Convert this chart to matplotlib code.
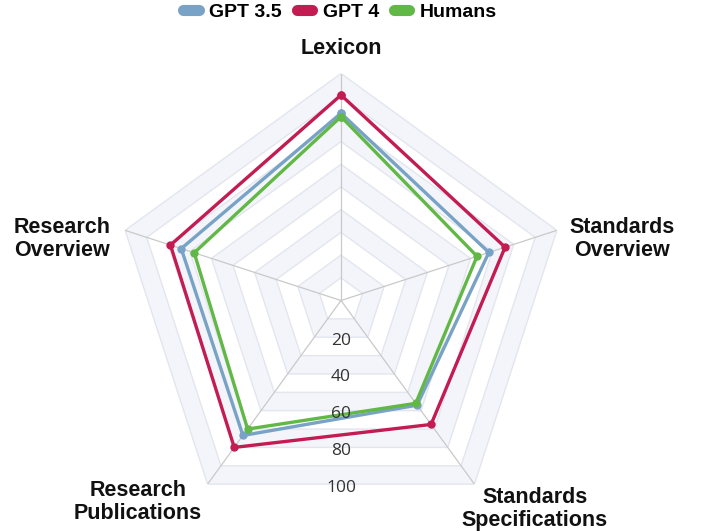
import numpy as np
import matplotlib.pyplot as plt
from matplotlib.lines import Line2D

# 数据
categories = ["Lexicon", "Standards\nOverview", "Standards\nSpecifications",
              "Research\nPublications", "Research\nOverview"]
gpt35 = [82.5, 68.5, 57, 73.5, 74]
gpt4 = [90.5, 76, 67.5, 80, 79]
humans = [81, 63, 56, 70, 68]
series_names = ["GPT 3.5", "GPT 4", "Humans"]
series_colors = ["#78a3c6", "#c21c52", "#62b846"]
tick_values = [20, 40, 60, 80, 100]

W, H = 702, 531
cx, cy, R = 341, 300.5, 227


def px(x, y):
    # 像素坐标 -> figure 坐标
    return x / W, 1 - y / H


fig = plt.figure(figsize=(W / 100, H / 100), dpi=100)
ax = fig.add_axes([(cx - R) / W, 1 - (cy + R) / H, 2 * R / W, 2 * R / H], projection="polar")
ax.set_theta_offset(np.pi / 2)
ax.set_theta_direction(-1)
ax.set_ylim(0, 100)
ax.grid(False)
ax.spines["polar"].set_visible(False)
ax.set_xticks([])
ax.set_yticks([])
ax.patch.set_alpha(0)

n = len(categories)
theta = np.arange(n) * 2 * np.pi / n
theta_c = np.append(theta, theta[0])

# 网格带（交替填充）
levels = np.arange(10, 101, 10)
for i in range(len(levels) - 1, -1, -1):
    r = levels[i]
    col = "#f4f5fa" if i % 2 == 1 else "white"
    ax.fill(theta_c, [r] * (n + 1), color=col, zorder=0, linewidth=0)
for r in levels:
    ax.plot(theta_c, [r] * (n + 1), color="#e3e6ee", linewidth=1, zorder=1)
for t in theta:
    ax.plot([t, t], [0, 100], color="#c9c9c9", linewidth=0.9, zorder=2)

# 数据系列
for vals, name, c in zip([gpt35, gpt4, humans], series_names, series_colors):
    v = np.append(vals, vals[0])
    ax.plot(theta_c, v, color=c, linewidth=2.4, marker="o", markersize=5,
            zorder=3, label=name)

# 刻度标签（沿下方）
apo = np.cos(np.pi / n)
for tv in tick_values:
    ax.text(np.pi, tv * apo + 1.5, str(tv), ha="center", va="center",
            fontsize=12.5, family="Open Sans", color="#333333", zorder=4)

# 类别标签
label_pos = [(341, 49), (622, 239), (535, 509), (138, 502), (62, 239)]
for lab, (x, y) in zip(categories, label_pos):
    fig.text(*px(x, y), lab, ha="center", va="center", fontsize=15.5,
             fontweight="bold", family="Liberation Sans", color="#111111",
             linespacing=1.15)

# 图例
handles = [Line2D([], [], color=c, linewidth=8, solid_capstyle="round")
           for c in series_colors]
fig.legend(handles, series_names, loc="center", bbox_to_anchor=px(340, 12),
           ncol=3, frameon=False, handlelength=0.8, handletextpad=0.55,
           columnspacing=0.75, prop={"family": "Liberation Sans", "weight": "bold", "size": 14})

fig.savefig("out.png", dpi=100)
